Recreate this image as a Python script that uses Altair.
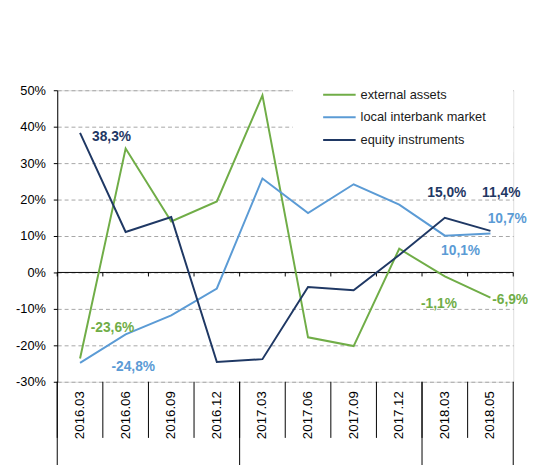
import altair as alt
import pandas as pd

categories = ["2016.03", "2016.06", "2016.09", "2016.12", "2017.03",
              "2017.06", "2017.09", "2017.12", "2018.03", "2018.05"]
series_names = ["external assets", "local interbank market", "equity instruments"]
external_assets = [-23.6, 34.0, 14.0, 19.5, 48.6, -17.8, -20.2, 6.5, -1.1, -6.9]
local_interbank = [-24.8, -17.0, -11.8, -4.4, 25.8, 16.3, 24.2, 18.6, 10.1, 10.7]
equity_instr = [38.3, 11.1, 15.2, -24.6, -23.8, -4.0, -4.9, 4.8, 15.0, 11.4]
y_ticks = [-30, -20, -10, 0, 10, 20, 30, 40, 50]
year_starts = ["2016.03", "2017.03", "2018.03"]

# labelled points: (series, category)
label_points = [
    ("equity instruments", "2016.03"),
    ("external assets", "2016.03"),
    ("local interbank market", "2016.03"),
    ("equity instruments", "2018.03"),
    ("equity instruments", "2018.05"),
    ("local interbank market", "2018.05"),
    ("local interbank market", "2018.03"),
    ("external assets", "2018.03"),
    ("external assets", "2018.05"),
]
# label offsets (style)
label_offsets = [(32, 4), (33, -31), (54, 4), (2, -25), (11, -38),
                 (17, -15), (16, 16), (-6, 28), (20, 3)]

colors = ["#70ad47", "#5b9bd5", "#1f3864"]
W, H = 463, 296
FONT = "Liberation Sans"

rows = []
for name, vals in zip(series_names, [external_assets, local_interbank, equity_instr]):
    for c, v in zip(categories, vals):
        rows.append({"cat": c, "series": name, "value": v,
                     "label": f"{v:.1f}".replace(".", ",") + "%"})
df = pd.DataFrame(rows)

xscale = alt.Scale(type="band", domain=categories, paddingInner=0, paddingOuter=0)
yscale = alt.Scale(domain=[-30, 50], nice=False, zero=False)

x_axis = alt.Axis(title=None, ticks=False, domain=False, grid=False,
                  labelAngle=270, labelAlign="right", labelBaseline="middle",
                  labelPadding=9, labelFontSize=13.5, labelFont=FONT,
                  labelColor="#000000", labelOverlap=False)
y_axis = alt.Axis(title=None, values=y_ticks, labelExpr="datum.value + '%'",
                  grid=True, gridColor="#a6a6a6", gridDash=[4, 3], gridWidth=1,
                  domainColor="#000000", tickColor="#000000", tickSize=4,
                  labelPadding=8, labelFontSize=13, labelFont=FONT,
                  labelColor="#000000", labelOverlap=False)


def X(**kw):
    return alt.X("cat:N", scale=xscale, axis=x_axis, sort=categories, **kw)


def Y():
    return alt.Y("value:Q", scale=yscale, axis=y_axis)


base = alt.Chart(df)

lines = base.mark_line(strokeWidth=2).encode(
    x=X(),
    y=Y(),
    color=alt.Color("series:N",
                    scale=alt.Scale(domain=series_names, range=colors),
                    legend=alt.Legend(title=None, orient="none", legendX=280, legendY=-2,
                                      symbolType="M-3.3,0L3.3,0", symbolSize=100,
                                      symbolStrokeWidth=2, labelFontSize=13,
                                      labelFont=FONT, labelColor="#1a1a1a",
                                      labelOffset=15, rowPadding=9, padding=0)),
    detail="series:N",
)

cat_df = pd.DataFrame({"cat": categories})
year_df = pd.DataFrame({"cat": year_starts})

white_box = alt.Chart(pd.DataFrame({"a": [0]})).mark_rect(fill="white").encode(
    x=alt.value(239), x2=alt.value(W), y=alt.value(-4), y2=alt.value(63))

zero_line = alt.Chart(pd.DataFrame({"value": [0]})).mark_rule(color="#000000", strokeWidth=1).encode(
    y=Y(), x=alt.value(0), x2=alt.value(W))

zero_ticks = alt.Chart(cat_df.assign(value=0, v2=-1.1)).mark_rule(color="#000000").encode(
    x=X(bandPosition=0), y=Y(), y2="v2:Q")
zero_tick_end = alt.Chart(pd.DataFrame({"value": [0], "v2": [-1.1]})).mark_rule(color="#000000").encode(
    x=alt.value(W), y=Y(), y2="v2:Q")

sep = alt.Chart(cat_df).mark_rule(color="#000000").encode(
    x=X(bandPosition=0), y=alt.value(H), y2=alt.value(H + 57))
year_sep = alt.Chart(year_df).mark_rule(color="#000000").encode(
    x=X(bandPosition=0), y=alt.value(H), y2=alt.value(H + 85))
end_sep = alt.Chart(pd.DataFrame({"a": [0]})).mark_rule(color="#000000").encode(
    x=alt.value(W), y=alt.value(H), y2=alt.value(H + 85))

layers = [white_box, zero_line, zero_ticks, zero_tick_end, sep, year_sep, end_sep, lines]

for (sname, cat), (dx, dy) in zip(label_points, label_offsets):
    sub = df[(df.series == sname) & (df.cat == cat)]
    col = colors[series_names.index(sname)]
    layers.append(
        alt.Chart(sub).mark_text(font=FONT, fontSize=14, fontWeight="bold",
                                 color=col, dx=dx, dy=dy, align="center",
                                 baseline="middle").encode(
            x=X(), y=Y(), text="label:N")
    )

chart = alt.layer(*layers).properties(
    width=W, height=H,
    autosize=alt.AutoSizeParams(type="none"),
    padding={"left": 50, "top": 80, "right": 15, "bottom": 81},
).configure_view(stroke=None).configure(background="white")

chart.save("out.html", embed_options={"renderer": "svg", "actions": False})
